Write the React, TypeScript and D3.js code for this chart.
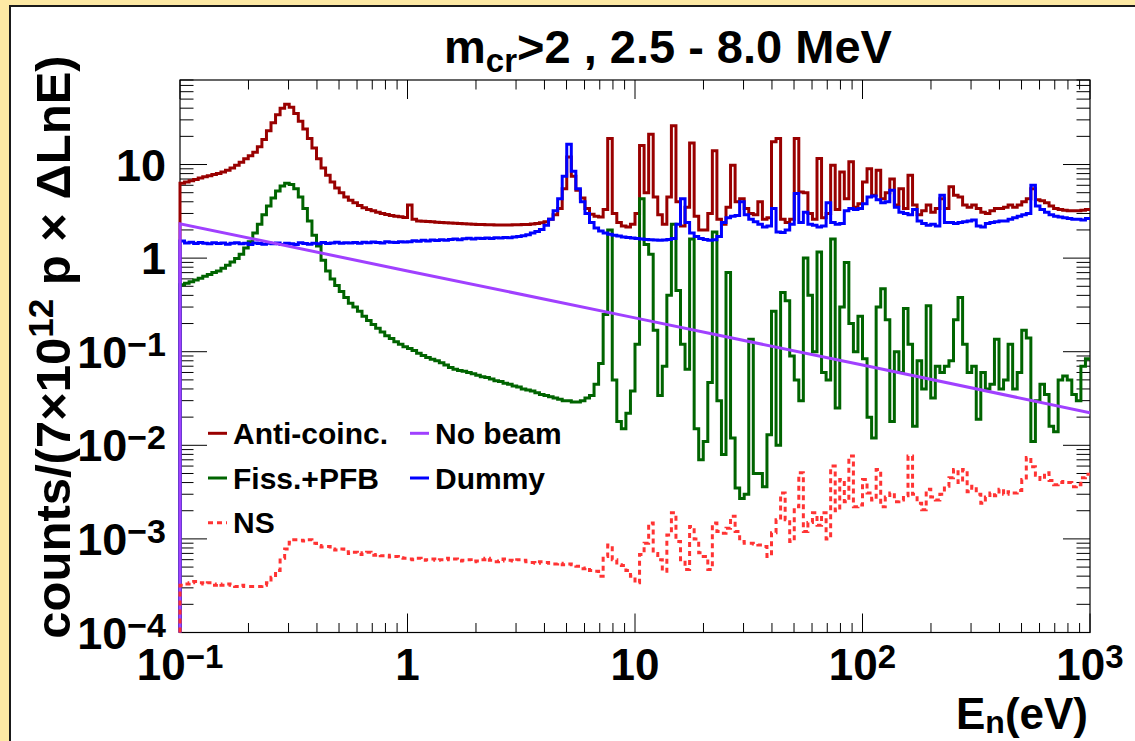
import React from "react";
import * as d3 from "d3";

// ---------------- data ----------------
const E_MIN = 0.1;
const E_MAX = 1000;
const BINS_PER_DECADE = 50;
const Y_MIN = 1e-4;
const Y_MAX = 80;

// Anti-coinc. (counts per bin, 50 log bins / decade from 0.1 eV)
const antiCoinc = [
  6.3, 6.5, 6.7, 6.9, 7.2, 7.4, 7.6, 7.8, 8.0, 8.3,
  8.7, 9.2, 9.8, 10.6, 11.5, 12.4, 13.5, 15.5, 18.5, 23,
  28, 34, 40, 44, 41, 35, 29, 24, 19, 15,
  11.5, 9.2, 7.7, 6.5, 5.6, 5.0, 4.5, 4.15, 3.9, 3.65,
  3.45, 3.3, 3.2, 3.1, 3.0, 2.92, 2.86, 2.8, 2.76, 2.72,
  3.7, 2.6, 2.5, 2.48, 2.46, 2.44, 2.42, 2.4, 2.38, 2.37,
  2.36, 2.35, 2.33, 2.32, 2.3, 2.29, 2.28, 2.27, 2.27, 2.26,
  2.26, 2.26, 2.26, 2.27, 2.27, 2.28, 2.29, 2.31, 2.34, 2.38,
  2.45, 2.6, 2.9, 3.4, 5.5, 12, 7.5, 5.3, 4.4, 3.4,
  2.95, 2.8, 2.75, 3.3, 19, 3.0, 2.4, 2.2, 2.15, 2.3,
  3.0, 16, 5.0, 21, 4.5, 2.9, 2.3, 4.5, 26, 4.0,
  2.2, 3.5, 17, 2.8, 2.0, 2.0, 3.0, 14, 2.6, 2.3,
  3.5, 9.8, 4.0, 4.3, 3.4, 3.0, 2.9, 4.0, 2.6, 2.7,
  17.5, 19, 2.6, 2.4, 2.6, 19, 5.1, 5.0, 3.0, 2.6,
  11.6, 2.7, 3.0, 9.8, 3.3, 8.3, 4.3, 10.7, 3.5, 3.8,
  6.5, 9.0, 4.7, 8.7, 4.3, 5.0, 7.0, 3.7, 5.5, 3.4,
  7.7, 3.7, 2.9, 3.2, 3.7, 3.1, 3.4, 4.3, 3.4, 5.8,
  4.7, 4.5, 3.7, 3.5, 3.7, 3.4, 3.1, 3.0, 3.2, 3.4,
  3.4, 3.5, 3.7, 3.5, 3.7, 4.0, 4.3, 5.5, 4.2, 4.1,
  3.9, 3.6, 3.4, 3.3, 3.25, 3.2, 3.2, 3.2, 3.25, 3.3,
];

// Fiss.+PFB
const fissPFB = [
  0.52, 0.54, 0.56, 0.585, 0.61, 0.64, 0.67, 0.70, 0.73, 0.78,
  0.84, 0.91, 0.99, 1.1, 1.28, 1.5, 1.85, 2.3, 2.9, 3.6,
  4.4, 5.2, 5.9, 6.3, 6.1, 5.5, 4.5, 3.4, 2.5, 1.75,
  1.35, 0.95, 0.73, 0.6, 0.51, 0.44, 0.38, 0.33, 0.30, 0.27,
  0.24, 0.215, 0.195, 0.178, 0.162, 0.148, 0.138, 0.128, 0.12, 0.113,
  0.108, 0.103, 0.096, 0.091, 0.087, 0.083, 0.080, 0.076, 0.072, 0.068,
  0.065, 0.063, 0.062, 0.060, 0.058, 0.056, 0.054, 0.053, 0.051, 0.049,
  0.048, 0.046, 0.045, 0.043, 0.042, 0.040, 0.039, 0.038, 0.0365, 0.035,
  0.034, 0.033, 0.032, 0.031, 0.030, 0.030, 0.029, 0.029, 0.030, 0.032,
  0.034, 0.045, 0.075, 0.25, 2.0, 0.05, 0.018, 0.015, 0.022, 0.038,
  0.12, 4.3, 1.4, 1.1, 0.17, 0.034, 0.07, 0.4, 2.3, 0.45,
  0.12, 0.065, 1.6, 0.015, 0.007, 0.011, 0.047, 1.9, 0.03, 0.008,
  0.7, 0.012, 0.0035, 0.0027, 0.003, 0.136, 0.005, 0.005, 0.0036, 0.013,
  0.27, 0.01, 0.43, 0.35, 0.09, 0.05, 0.03, 1.0, 0.4, 0.1,
  1.16, 0.06, 0.05, 1.6, 0.025, 0.3, 0.9, 0.2, 0.1, 0.24,
  0.084, 0.02, 0.012, 0.3, 0.47, 0.22, 0.018, 0.1, 0.06, 0.29,
  0.12, 0.016, 0.08, 0.04, 0.31, 0.032, 0.07, 0.06, 0.07, 0.08,
  0.22, 0.38, 0.12, 0.06, 0.07, 0.019, 0.06, 0.04, 0.045, 0.136,
  0.04, 0.05, 0.12, 0.04, 0.06, 0.17, 0.14, 0.011, 0.03, 0.045,
  0.035, 0.016, 0.014, 0.05, 0.055, 0.05, 0.035, 0.03, 0.07, 0.084,
];

// Dummy
const dummy = [
  1.52, 1.45, 1.48, 1.43, 1.47, 1.44, 1.42, 1.46, 1.43, 1.45,
  1.41, 1.44, 1.46, 1.42, 1.44, 1.40, 1.45, 1.43, 1.41, 1.44,
  1.42, 1.45, 1.40, 1.44, 1.42, 1.40, 1.46, 1.43, 1.41, 1.44,
  1.42, 1.47, 1.43, 1.45, 1.48, 1.44, 1.46, 1.45, 1.47, 1.44,
  1.48, 1.46, 1.49, 1.47, 1.45, 1.50, 1.48, 1.47, 1.50, 1.49,
  1.50, 1.53, 1.51, 1.55, 1.52, 1.56, 1.54, 1.57, 1.55, 1.58,
  1.60, 1.57, 1.61, 1.63, 1.60, 1.63, 1.62, 1.64, 1.62, 1.65,
  1.64, 1.66, 1.65, 1.68, 1.70, 1.73, 1.78, 1.85, 1.92, 2.02,
  2.25, 2.6, 3.2, 4.3, 7.5, 16.5, 8.5, 5.5, 4.0, 3.0,
  2.4, 2.1, 1.95, 1.85, 1.80, 1.76, 1.72, 1.68, 1.66, 1.64,
  1.62, 1.60, 1.58, 1.57, 1.56, 1.55, 1.56, 1.58, 1.62, 2.3,
  4.3, 2.4, 1.85, 1.7, 1.62, 1.58, 1.55, 1.57, 1.7, 2.4,
  2.7, 2.8, 2.85, 4.0, 2.9, 2.6, 2.45, 2.3, 2.15, 2.2,
  3.4, 1.9, 1.88, 2.0, 2.3, 4.9, 2.4, 3.1, 2.3, 2.25,
  2.15, 2.2, 3.9, 2.4, 2.3, 2.35, 3.2, 3.4, 3.3, 3.4,
  3.8, 4.5, 4.6, 4.2, 3.9, 4.0, 5.3, 3.5, 3.1, 3.0,
  2.9, 3.3, 2.5, 2.35, 2.25, 2.3, 2.2, 4.7, 2.4, 2.4,
  2.35, 2.4, 2.45, 2.5, 2.55, 2.2, 2.15, 2.35, 2.4, 2.45,
  2.5, 2.5, 2.6, 2.7, 2.8, 2.9, 3.0, 6.0, 3.6, 3.3,
  3.1, 2.9, 2.8, 2.75, 2.7, 2.65, 2.6, 2.6, 2.55, 2.65,
];

// NS
const neutronSep = [
  3.2e-4, 3.3e-4, 3.4e-4, 3.5e-4, 3.4e-4, 3.3e-4, 3.4e-4, 3.2e-4, 3.3e-4, 3.2e-4,
  3.3e-4, 3.2e-4, 3.1e-4, 3.2e-4, 3.1e-4, 3.1e-4, 3.1e-4, 3.1e-4, 3.2e-4, 3.4e-4,
  3.9e-4, 4.6e-4, 6.2e-4, 7.8e-4, 9.2e-4, 9.8e-4, 9.7e-4, 9.5e-4, 9.8e-4, 9.0e-4,
  8.5e-4, 8.2e-4, 8.3e-4, 7.8e-4, 7.6e-4, 7.8e-4, 7.3e-4, 7.0e-4, 7.2e-4, 6.8e-4,
  7.1e-4, 7.2e-4, 6.7e-4, 6.8e-4, 6.6e-4, 6.7e-4, 6.4e-4, 6.5e-4, 6.3e-4, 6.2e-4,
  6.1e-4, 6.0e-4, 6.2e-4, 5.9e-4, 6.0e-4, 6.1e-4, 5.9e-4, 6.0e-4, 6.2e-4, 6.0e-4,
  6.1e-4, 5.8e-4, 5.9e-4, 6.0e-4, 5.7e-4, 5.8e-4, 6.0e-4, 6.2e-4, 5.9e-4, 5.7e-4,
  5.8e-4, 6.1e-4, 5.9e-4, 5.8e-4, 6.0e-4, 5.9e-4, 5.7e-4, 5.6e-4, 5.5e-4, 5.7e-4,
  5.6e-4, 5.5e-4, 5.4e-4, 5.5e-4, 5.3e-4, 5.4e-4, 5.3e-4, 5.1e-4, 4.8e-4, 4.9e-4,
  4.6e-4, 4.5e-4, 4.0e-4, 6.5e-4, 8.6e-4, 6.0e-4, 5.3e-4, 5.2e-4, 4.6e-4, 4.0e-4,
  3.4e-4, 6.8e-4, 9.0e-4, 1.48e-3, 7.0e-4, 6.0e-4, 4.5e-4, 1.1e-3, 1.9e-3, 9.4e-4,
  6.0e-4, 4.7e-4, 1.36e-3, 1.0e-3, 7.1e-4, 6.5e-4, 4.7e-4, 1.48e-3, 1.2e-3, 1.15e-3,
  1.3e-3, 1.75e-3, 1.2e-3, 9.4e-4, 9.0e-4, 9.0e-4, 8.8e-4, 8.6e-4, 8.3e-4, 6.5e-4,
  1.16e-3, 1.6e-3, 3.1e-3, 1.6e-3, 9.4e-4, 2.2e-3, 5.1e-3, 1.2e-3, 1.5e-3, 1.9e-3,
  1.4e-3, 1.9e-3, 1.0e-3, 6.0e-3, 2.0e-3, 4.3e-3, 2.5e-3, 7.7e-3, 2.2e-3, 2.3e-3,
  4.3e-3, 3.1e-3, 2.6e-3, 5.5e-3, 2.2e-3, 2.8e-3, 3.1e-3, 2.5e-3, 2.6e-3, 2.9e-3,
  7.7e-3, 3.0e-3, 2.4e-3, 2.05e-3, 3.4e-3, 2.8e-3, 2.6e-3, 3.0e-3, 3.65e-3, 4.5e-3,
  5.5e-3, 4.0e-3, 5.5e-3, 3.2e-3, 3.65e-3, 3.0e-3, 2.4e-3, 2.8e-3, 3.1e-3, 2.9e-3,
  3.4e-3, 3.0e-3, 3.2e-3, 3.1e-3, 3.3e-3, 4.3e-3, 7.4e-3, 5.9e-3, 4.8e-3, 4.3e-3,
  5.1e-3, 4.2e-3, 3.8e-3, 4.0e-3, 4.1e-3, 4.0e-3, 3.6e-3, 3.8e-3, 4.5e-3, 4.9e-3,
];

// No beam (smooth power law read at decades)
const noBeamE = [0.1, 1, 10, 100, 1000];
const noBeamV = [2.33, 0.73, 0.23, 0.072, 0.0223];

const xMajorTicks = [0.1, 1, 10, 100, 1000];
const xTickBase = ["10", "1", "10", "10", "10"];
const xTickExp = ["\u22121", "", "", "2", "3"];
const yMajorTicks = [1e-4, 1e-3, 1e-2, 1e-1, 1, 10];
const yTickBase = ["10", "10", "10", "10", "1", "10"];
const yTickExp = ["\u22124", "\u22123", "\u22122", "\u22121", "", ""];

const legendLabels = ["Anti-coinc.", "No beam", "Fiss.+PFB", "Dummy", "NS"];
const legendKeys = ["anti", "noBeam", "fiss", "dummy", "ns"];

// ---------------- drawing ----------------
const W = 1135;
const H = 741;
const PLOT = { left: 180, right: 1090, top: 80, bottom: 632.5 };
const FONT = "'Liberation Sans', Arial, Helvetica, sans-serif";
const COLORS: Record<string, string> = {
  anti: "#990000",
  fiss: "#006400",
  dummy: "#0000ff",
  noBeam: "#a040ff",
  ns: "#ff3333",
};

export default function App() {
  const x = d3.scaleLog().domain([E_MIN, E_MAX]).range([PLOT.left, PLOT.right]);
  const y = d3.scaleLog().domain([Y_MIN, Y_MAX]).range([PLOT.bottom, PLOT.top]);
  const nBins = Math.round(Math.log10(E_MAX / E_MIN) * BINS_PER_DECADE);
  const edges = d3.range(nBins + 1).map((k) => E_MIN * Math.pow(10, k / BINS_PER_DECADE));
  const line = d3.line<[number, number]>();

  const histPath = (vals: number[]) => {
    const pts: [number, number][] = [[x(edges[0]), y(Y_MIN)]];
    vals.forEach((v, k) => {
      pts.push([x(edges[k]), y(v)]);
      pts.push([x(edges[k + 1]), y(v)]);
    });
    return line(pts) || "";
  };
  const noBeamPath =
    line([[x(noBeamE[0]), y(Y_MIN)] as [number, number], ...noBeamE.map((e, i) => [x(e), y(noBeamV[i])] as [number, number])]) || "";

  const xTicks = x.ticks();
  const yTicks = y.ticks();
  const isMajor = (v: number) => Math.abs(Math.log10(v) - Math.round(Math.log10(v))) < 1e-6;

  const legendPos = (i: number) => ({ lx: i % 2 === 0 ? 208 : 410, cy: 433.3 + Math.floor(i / 2) * 44.7 });

  return (
    <div style={{ position: "absolute", left: 0, top: 0 }}>
      <svg width={W} height={H} style={{ display: "block" }} fontFamily={FONT} fontWeight="bold">
        <rect x={0} y={0} width={W} height={H} fill="#fde9a4" />
        <rect x={10} y={6} width={W} height={H} fill="#ffffff" stroke="#1a1a1a" strokeWidth={2} />

        {/* title */}
        <text x={444} y={63} fontSize={47} fill="#000">
          m<tspan fontSize={33} dy={9}>cr</tspan>
          <tspan dy={-9}>{">2 , 2.5 - 8.0 MeV"}</tspan>
        </text>

        <defs>
          <clipPath id="plotClip">
            <rect x={PLOT.left - 2} y={PLOT.top} width={PLOT.right - PLOT.left + 2} height={PLOT.bottom - PLOT.top + 1} />
          </clipPath>
        </defs>

        {/* frame */}
        <rect x={PLOT.left} y={PLOT.top} width={PLOT.right - PLOT.left} height={PLOT.bottom - PLOT.top} fill="none" stroke="#000" strokeWidth={1.2} />

        {/* x ticks */}
        {xTicks.map((t, i) => {
          const len = isMajor(t) ? 19 : 9.5;
          const xx = x(t);
          return (
            <g key={"xt" + i} stroke="#000" strokeWidth={1}>
              <line x1={xx} x2={xx} y1={PLOT.bottom} y2={PLOT.bottom - len} />
              <line x1={xx} x2={xx} y1={PLOT.top} y2={PLOT.top + len} />
            </g>
          );
        })}
        {/* y ticks */}
        {yTicks.map((t, i) => {
          const len = isMajor(t) ? 27 : 13.5;
          const yy = y(t);
          return (
            <g key={"yt" + i} stroke="#000" strokeWidth={1}>
              <line x1={PLOT.left} x2={PLOT.left + len} y1={yy} y2={yy} />
              <line x1={PLOT.right} x2={PLOT.right - len} y1={yy} y2={yy} />
            </g>
          );
        })}

        {/* histograms */}
        <g clipPath="url(#plotClip)" fill="none" strokeLinejoin="miter">
          <path d={histPath(antiCoinc)} stroke={COLORS.anti} strokeWidth={3} />
          <path d={histPath(fissPFB)} stroke={COLORS.fiss} strokeWidth={3} />
          <path d={histPath(dummy)} stroke={COLORS.dummy} strokeWidth={3} />
          <path d={noBeamPath} stroke={COLORS.noBeam} strokeWidth={3} />
          <path d={histPath(neutronSep)} stroke={COLORS.ns} strokeWidth={3} strokeDasharray="5 4" />
        </g>

        {/* x tick labels */}
        {xMajorTicks.map((t, i) => (
          <text key={"xl" + i} x={x(t)} y={680} fontSize={44} textAnchor="middle" fill="#000">
            {xTickBase[i]}
            {xTickExp[i] ? (
              <tspan fontSize={33} dy={-12}>
                {xTickExp[i]}
              </tspan>
            ) : null}
          </text>
        ))}
        {/* y tick labels */}
        {yMajorTicks.map((t, i) => (
          <text key={"yl" + i} x={166} y={y(t) + 16} fontSize={45} textAnchor="end" fill="#000">
            {yTickBase[i]}
            {yTickExp[i] ? (
              <tspan fontSize={34} dy={-12}>
                {yTickExp[i]}
              </tspan>
            ) : null}
          </text>
        ))}

        {/* axis titles */}
        <text x={1088} y={729} fontSize={44} textAnchor="end" fill="#000">
          E<tspan fontSize={32} dy={4}>n</tspan>
          <tspan dy={-4}>(eV)</tspan>
        </text>
        <text transform="translate(70,347) rotate(-90)" fontSize={49} textAnchor="middle" fill="#000">
          {"counts/(7\u00d710"}
          <tspan fontSize={35} dy={-17}>12</tspan>
          <tspan dy={17}>{" p \u00d7 \u0394LnE)"}</tspan>
        </text>

        {/* legend */}
        {legendLabels.map((lab, i) => {
          const { lx, cy } = legendPos(i);
          const key = legendKeys[i];
          return (
            <g key={"lg" + i}>
              <line
                x1={lx}
                x2={lx + 19}
                y1={cy}
                y2={cy}
                stroke={COLORS[key]}
                strokeWidth={3}
                strokeDasharray={key === "ns" ? "5 4" : undefined}
              />
              <text x={lx + 25} y={cy + 10.5} fontSize={30} fill="#000">
                {lab}
              </text>
            </g>
          );
        })}
      </svg>
    </div>
  );
}
